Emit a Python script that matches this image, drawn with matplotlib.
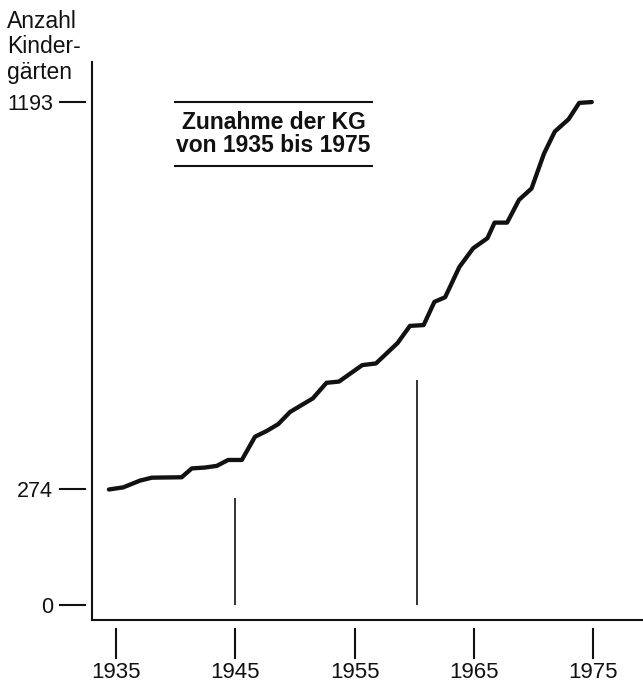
import matplotlib
matplotlib.use("Agg")
import matplotlib.pyplot as plt
import matplotlib.transforms as mtransforms
from matplotlib.lines import Line2D

plt.rcParams['font.family'] = ['Liberation Sans', 'DejaVu Sans']

# ---- data ----
years = [1934.4, 1935.6, 1937.0, 1938.0, 1940.5, 1941.35, 1942.45, 1943.45, 1944.4,
         1945.55, 1946.65, 1947.65, 1948.6, 1949.6, 1951.5, 1952.65, 1953.7, 1955.65,
         1956.8, 1958.6, 1959.65, 1960.8, 1961.7, 1962.6, 1963.8, 1964.95, 1966.15,
         1966.75, 1967.8, 1968.8, 1969.85, 1970.9, 1971.8, 1972.95, 1973.85, 1974.9]
kindergaerten = [274, 279, 295, 302, 303, 324, 326, 330, 344,
                 344, 399, 413, 429, 458, 490, 527, 530, 569,
                 573, 621, 662, 664, 719, 730, 802, 846, 870,
                 907, 907, 961, 988, 1071, 1123, 1152, 1191, 1193]

marker_years = [1945, 1960.25]
marker_heights = [254, 534]

x_ticks = [1935, 1945, 1955, 1965, 1975]
x_ticklabels = ["1935", "1945", "1955", "1965", "1975"]
y_ticks = [0, 274, 1193]
y_ticklabels = ["0", "274", "1193"]

title_text = "Zunahme der KG\nvon 1935 bis 1975"
ylabel_text = "Anzahl\nKinder-\ngärten"

# ---- figure ----
W, H = 643, 686
fig = plt.figure(figsize=(W / 100, H / 100), dpi=100)
fig.patch.set_facecolor("white")

ax_left, ax_right, ax_top, ax_bottom = 92, 643, 62, 620
ax = fig.add_axes([ax_left / W, (H - ax_bottom) / H,
                   (ax_right - ax_left) / W, (ax_bottom - ax_top) / H])

ink = "#111111"
ax.plot(years, kindergaerten, color=ink, lw=3.1, solid_capstyle="round",
        solid_joinstyle="round")
ax.vlines(marker_years, 0, marker_heights, color=ink, lw=1.2)

ax.set_xlim(1932.98, 1979.2)
ax.set_ylim(-35.6, 1288)

for s in ["top", "right"]:
    ax.spines[s].set_visible(False)
for s in ["left", "bottom"]:
    ax.spines[s].set_linewidth(1.5)
    ax.spines[s].set_color(ink)

ax.set_xticks(x_ticks)
ax.set_xticklabels(x_ticklabels)
ax.set_yticks(y_ticks)
ax.set_yticklabels(y_ticklabels)
ax.tick_params(axis="x", length=0, pad=30.5, labelsize=16, labelcolor=ink)
ax.tick_params(axis="y", length=0, pad=28, labelsize=15.5, labelcolor=ink)

# detached tick marks
axw = ax_right - ax_left
axh = ax_bottom - ax_top
tx = mtransforms.blended_transform_factory(ax.transData, ax.transAxes)
for xt in x_ticks:
    ax.plot([xt, xt], [-9 / axh, -38 / axh], transform=tx, color=ink, lw=1.5,
            clip_on=False)
ty = mtransforms.blended_transform_factory(ax.transAxes, ax.transData)
for yt in y_ticks:
    ax.plot([-32 / axw, -7 / axw], [yt, yt], transform=ty, color=ink, lw=1.5,
            clip_on=False)

# y-axis label (top-left)
fig.text(7 / W, 1 - 10 / H, ylabel_text, ha="left", va="top", fontsize=16.5,
         color=ink, linespacing=1.13)

# boxed title
bx0, bx1 = 175, 372
for yy in (102, 166):
    fig.add_artist(Line2D([bx0 / W, bx1 / W], [1 - yy / H, 1 - yy / H],
                          color=ink, lw=1.5))
fig.text((bx0 + bx1) / 2 / W, 1 - 134 / H, title_text, ha="center", va="center",
         fontsize=16.5, fontweight="bold", color=ink, linespacing=1.02)

fig.savefig("out.png", dpi=100, facecolor="white")
